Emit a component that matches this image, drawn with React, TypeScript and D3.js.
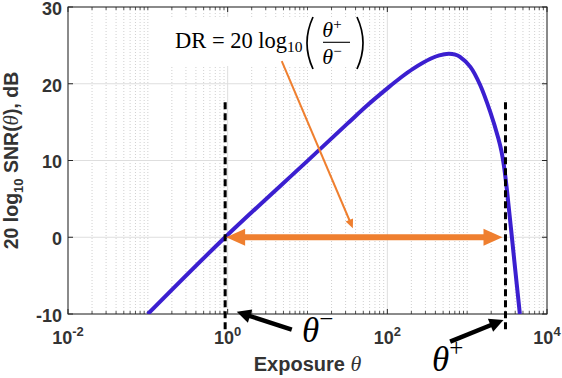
import React from 'react';
import * as d3 from 'd3';

// Exposure theta (photons) and SNR in dB
const exposure = [0.1, 0.93, 10, 31.6, 56.2, 100, 145, 214, 347, 447, 589, 708, 813, 1096, 1445, 1950, 2455, 2690, 2880, 3090, 3310, 3550, 3980, 4570];
const snrDb = [-10, 0, 9.95, 14.8, 17.2, 19.4, 20.75, 22.0, 23.25, 23.7, 23.92, 23.8, 23.5, 22.2, 19.9, 16.3, 12.9, 11.2, 9.4, 6.9, 4.0, 1.0, -4.0, -10];

const xTickExponents = [-2, 0, 2, 4];
const yTicks = [-10, 0, 10, 20, 30];
const xDomain = [1e-2, 1e4];
const yDomain = [-10, 30];

// annotation values (data space)
const thetaMinus = 0.93;
const thetaPlus = 3020;
const markerDbTop = 17.6;
const markerDbBottom = -12.1;
const drPointerFrom = [4.76, 22.96];
const drPointerTo = [37, 1.17];
const thetaMinusArrowFrom = [6.35, -12.05];
const thetaMinusArrowTo = [1.3, -9.7];
const thetaPlusArrowFrom = [612, -13.6];
const thetaPlusArrowTo = [2850, -10.78];

const W = 562;
const H = 378;
const L = 68, R = 547, T = 7, B = 314;

const BLUE = '#3b1fd0';
const ORANGE = '#ef7f2f';
const AXIS = '#262626';
const TXT = '#333333';

function arrowHead(x1: number, y1: number, x2: number, y2: number, len: number, half: number) {
  const a = Math.atan2(y2 - y1, x2 - x1);
  const bx = x2 - len * Math.cos(a);
  const by = y2 - len * Math.sin(a);
  const px = -Math.sin(a) * half;
  const py = Math.cos(a) * half;
  return `M${x2},${y2}L${bx + px},${by + py}L${bx - px},${by - py}Z`;
}
function shaftEnd(x1: number, y1: number, x2: number, y2: number, back: number) {
  const a = Math.atan2(y2 - y1, x2 - x1);
  return [x2 - back * Math.cos(a), y2 - back * Math.sin(a)];
}

export default function App() {
  const x = d3.scaleLog().domain(xDomain).range([L, R]);
  const y = d3.scaleLinear().domain(yDomain).range([B, T]);

  const pts = exposure.map((e, i) => [e, snrDb[i]] as [number, number]);
  const line = d3.line<[number, number]>().x(d => x(d[0])).y(d => y(d[1])).curve(d3.curveCatmullRom.alpha(0.5));

  const majors = xTickExponents.map(e => Math.pow(10, e));
  const minors: number[] = [];
  for (let d = -2; d < 4; d++) {
    for (let k = 1; k <= 9; k++) {
      const v = k * Math.pow(10, d);
      if (!majors.some(m => Math.abs(m - v) / v < 1e-9)) minors.push(v);
    }
  }

  const dax1 = x(thetaMinus), dax2 = x(thetaPlus), day = y(0);
  const headLen = 19, headHalf = 8.5;

  const p1 = [x(drPointerFrom[0]), y(drPointerFrom[1])];
  const p2 = [x(drPointerTo[0]), y(drPointerTo[1])];
  const p2s = shaftEnd(p1[0], p1[1], p2[0], p2[1], 6);

  const m1 = [x(thetaMinusArrowFrom[0]), y(thetaMinusArrowFrom[1])];
  const m2 = [x(thetaMinusArrowTo[0]), y(thetaMinusArrowTo[1])];
  const m2s = shaftEnd(m1[0], m1[1], m2[0], m2[1], 10);
  const q1 = [x(thetaPlusArrowFrom[0]), y(thetaPlusArrowFrom[1])];
  const q2 = [x(thetaPlusArrowTo[0]), y(thetaPlusArrowTo[1])];
  const q2s = shaftEnd(q1[0], q1[1], q2[0], q2[1], 10);

  return (
    <svg width={W} height={H} style={{ position: 'absolute', left: 0, top: 0, background: '#fff' }}
      fontFamily="'Liberation Sans', Arial, sans-serif">
      <defs>
        <clipPath id="plotclip"><rect x={L} y={T} width={R - L} height={B - T} /></clipPath>
      </defs>
      <rect x={0} y={0} width={W} height={H} fill="#fff" />
      {minors.map((v, i) => (
        <line key={'mg' + i} x1={x(v)} x2={x(v)} y1={T} y2={B} stroke="#c4c4c4" strokeWidth={0.8} strokeDasharray="1,2" />
      ))}
      {majors.map((v, i) => (
        <line key={'Mg' + i} x1={x(v)} x2={x(v)} y1={T} y2={B} stroke="#dedede" strokeWidth={1} />
      ))}
      {yTicks.map((v, i) => (
        <line key={'yg' + i} x1={L} x2={R} y1={y(v)} y2={y(v)} stroke="#dedede" strokeWidth={1} />
      ))}

      <rect x={168} y={17} width={200} height={49} fill="#fff" />

      {majors.map((v, i) => (
        <g key={'mt' + i}>
          <line x1={x(v)} x2={x(v)} y1={B} y2={B - 5} stroke={AXIS} />
          <line x1={x(v)} x2={x(v)} y1={T} y2={T + 5} stroke={AXIS} />
        </g>
      ))}
      {minors.map((v, i) => (
        <g key={'nt' + i}>
          <line x1={x(v)} x2={x(v)} y1={B} y2={B - 3} stroke={AXIS} strokeWidth={0.8} />
          <line x1={x(v)} x2={x(v)} y1={T} y2={T + 3} stroke={AXIS} strokeWidth={0.8} />
        </g>
      ))}
      {yTicks.map((v, i) => (
        <g key={'yt' + i}>
          <line x1={L} x2={L + 5} y1={y(v)} y2={y(v)} stroke={AXIS} />
          <line x1={R} x2={R - 5} y1={y(v)} y2={y(v)} stroke={AXIS} />
        </g>
      ))}
      <rect x={L} y={T} width={R - L} height={B - T} fill="none" stroke={AXIS} strokeWidth={1} />

      <path d={line(pts) || ''} fill="none" stroke={BLUE} strokeWidth={4} strokeLinejoin="round" clipPath="url(#plotclip)" />

      {[thetaMinus, thetaPlus].map((v, i) => (
        <line key={'dm' + i} x1={x(v)} x2={x(v)} y1={y(markerDbTop)} y2={y(markerDbBottom)}
          stroke="#000" strokeWidth={3} strokeDasharray="7,4" />
      ))}

      <line x1={dax1 + headLen - 1} x2={dax2 - headLen + 1} y1={day} y2={day} stroke={ORANGE} strokeWidth={6} />
      <path d={arrowHead(dax2, day, dax1 + 1, day, headLen, headHalf)} fill={ORANGE} />
      <path d={arrowHead(dax1, day, dax2 - 3, day, headLen, headHalf)} fill={ORANGE} />

      <line x1={p1[0]} y1={p1[1]} x2={p2s[0]} y2={p2s[1]} stroke={ORANGE} strokeWidth={2} />
      <path d={arrowHead(p1[0], p1[1], p2[0], p2[1], 9, 4)} fill={ORANGE} />

      <line x1={m1[0]} y1={m1[1]} x2={m2s[0]} y2={m2s[1]} stroke="#000" strokeWidth={4.5} />
      <path d={arrowHead(m1[0], m1[1], m2[0], m2[1], 14, 7)} fill="#000" />
      <line x1={q1[0]} y1={q1[1]} x2={q2s[0]} y2={q2s[1]} stroke="#000" strokeWidth={4.5} />
      <path d={arrowHead(q1[0], q1[1], q2[0], q2[1], 14, 7)} fill="#000" />

      {yTicks.map((v, i) => (
        <text key={'yl' + i} x={L - 6} y={y(v) + 1.5} dy="0.36em" textAnchor="end" fontWeight="bold" fontSize={18} fill={TXT}>{v}</text>
      ))}
      {xTickExponents.map((e, i) => (
        <text key={'xl' + i} x={x(Math.pow(10, e))} y={344} textAnchor="middle" fontWeight="bold" fontSize={18} fill={TXT}>
          10<tspan dy={-8} fontSize={13}>{e}</tspan>
        </text>
      ))}
      <text x={(L + R) / 2} y={371} textAnchor="middle" fontWeight="bold" fontSize={20} fill={TXT}>
        Exposure <tspan fontFamily="'Liberation Serif', serif" fontStyle="italic" fontWeight="normal" fontSize={22}>θ</tspan>
      </text>
      <text transform={`translate(18,${(T + B) / 2}) rotate(-90)`} textAnchor="middle" fontWeight="bold" fontSize={19.5} fill={TXT}>
        20 log<tspan dy={5} fontSize={13}>10</tspan><tspan dy={-5}> SNR(</tspan><tspan fontFamily="'Liberation Serif', serif" fontStyle="italic" fontWeight="normal" fontSize={21}>θ</tspan>), dB
      </text>

      <g fontFamily="'Liberation Serif', 'Times New Roman', serif" fill="#000">
        <text x={175} y={48} fontSize={22.5}>DR = 20 log<tspan dy={4} fontSize={15.5}>10</tspan></text>
        <path d="M313,17 Q301,43 313,69" fill="none" stroke="#000" strokeWidth={1.7} />
        <path d="M357,17 Q369,43 357,69" fill="none" stroke="#000" strokeWidth={1.7} />
        <text x={332} y={37} fontSize={22} fontStyle="italic" textAnchor="middle">θ<tspan dy={-8} fontSize={15} fontStyle="normal">+</tspan></text>
        <line x1={323} x2={350} y1={42.3} y2={42.3} stroke="#000" strokeWidth={1.1} />
        <text x={332} y={64} fontSize={22} fontStyle="italic" textAnchor="middle">θ<tspan dy={-8} fontSize={15} fontStyle="normal">−</tspan></text>
      </g>

      <g fontFamily="'Liberation Serif', 'Times New Roman', serif" fill="#000">
        <text x={302} y={342} fontSize={35} fontStyle="italic">θ<tspan dy={-15} fontSize={25} fontStyle="normal">−</tspan></text>
        <text x={432} y={371} fontSize={35} fontStyle="italic">θ<tspan dy={-15} fontSize={25} fontStyle="normal">+</tspan></text>
      </g>
    </svg>
  );
}
